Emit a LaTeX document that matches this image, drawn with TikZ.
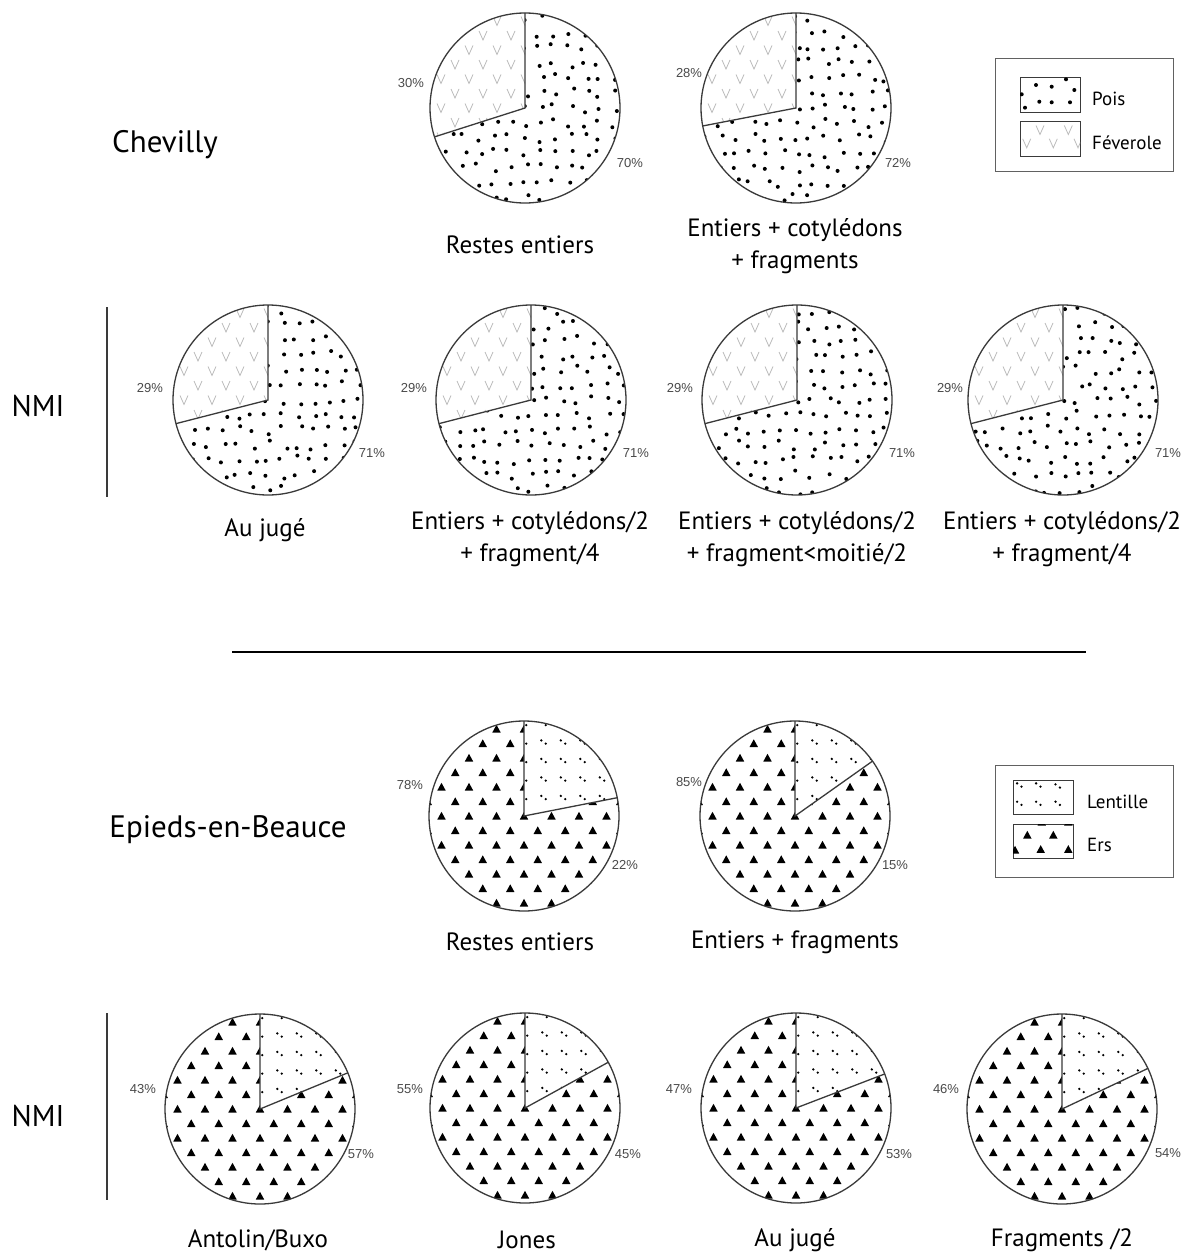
\documentclass[tikz,border=0pt]{standalone}
\usepackage{fontspec}
\setmainfont{PT Sans}
\newfontfamily\pctfont{Liberation Sans}
\definecolor{pline}{HTML}{3A3A3A}
\definecolor{vgray}{HTML}{BDBDBD}
\definecolor{pctgray}{HTML}{4A4A4A}
\tikzset{
  pieline/.style={draw=pline, line width=1.3pt},
  bigtxt/.style={font=\fontsize{31}{36}\selectfont, inner sep=0pt},
  nmitxt/.style={font=\fontsize{30}{34}\selectfont, inner sep=0pt},
  captxt/.style={font=\fontsize{25}{32}\selectfont, align=center, inner sep=0pt},
  pcttxt/.style={font=\pctfont\fontsize{13}{15}\selectfont, text=pctgray, inner sep=0pt},
  legtxt/.style={font=\fontsize{19}{22}\selectfont, anchor=west, inner sep=0pt},
  legbox/.style={draw=pline!80, line width=1pt},
}
\newcommand\dotsfill[2]{%
  \foreach \i in {-7,...,7}{\foreach \j in {-7,...,7}{
    \fill[black] ({#1+\i*15+4.5*rand},{#2+\j*15+4.5*rand}) circle (2pt);}}}
\newcommand\veesfill[2]{%
  \foreach \j in {-7,...,7}{\foreach \i in {-4,...,4}{
    \pgfmathsetmacro\xx{#1+\i*28+14*mod(abs(\j),2)}
    \pgfmathsetmacro\yy{#2+\j*14.5}
    \draw[vgray, line width=0.8pt] (\xx-4,\yy+4.5) -- (\xx,\yy-4.5) -- (\xx+4,\yy+4.5);}}}
\newcommand\lentfill[2]{%
  \foreach \i in {-5,...,5}{\foreach \j in {-6,...,6}{
    \fill[black] ({#1+\i*19.5-2.2},{#2+\j*18.5+1.6}) circle (1.3pt);
    \fill[black] ({#1+\i*19.5+2.2},{#2+\j*18.5-1.6}) circle (1.3pt);}}}
\newcommand\ersfill[2]{%
  \foreach \j in {-7,...,7}{\foreach \i in {-4,...,4}{
    \pgfmathsetmacro\xx{#1+\i*27.5+13.75*mod(abs(\j),2)}
    \pgfmathsetmacro\yy{#2+\j*14.5}
    \fill[black] (\xx-4.2,\yy-3.5) -- (\xx+4.2,\yy-3.5) -- (\xx,\yy+4.2) -- cycle;}}}
% Chevilly-type pie: feverole wedge from 90 to #3
\newcommand\chevpie[3]{%
  \begin{scope}
    \clip (#1,-#2) circle (95pt);
    \fill[white] (#1,-#2) circle (95pt);
    \dotsfill{#1}{-#2}
  \end{scope}
  \begin{scope}
    \clip (#1,-#2) -- ++(90:95pt) arc[start angle=90,end angle=#3,radius=95pt] -- cycle;
    \fill[white] (#1-100,-#2-100) rectangle (#1+100,-#2+100);
    \veesfill{#1}{-#2}
  \end{scope}
  \draw[pieline] (#1,-#2) circle (95pt);
  \draw[pieline] (#1,-#2+95) -- (#1,-#2) -- ++(#3:95pt);
}
% Epieds-type pie: lentille wedge from #3 to 90
\newcommand\epipie[3]{%
  \begin{scope}
    \clip (#1,-#2) circle (95pt);
    \fill[white] (#1,-#2) circle (95pt);
    \ersfill{#1}{-#2}
  \end{scope}
  \begin{scope}
    \clip (#1,-#2) -- ++(#3:95pt) arc[start angle=#3,end angle=90,radius=95pt] -- cycle;
    \fill[white] (#1-100,-#2-100) rectangle (#1+100,-#2+100);
    \lentfill{#1}{-#2}
  \end{scope}
  \draw[pieline] (#1,-#2) circle (95pt);
  \draw[pieline] (#1,-#2+95) -- (#1,-#2) -- ++(#3:95pt);
}
\begin{document}
\begin{tikzpicture}[x=1pt,y=1pt]
\pgfmathsetseed{7}
\useasboundingbox (0,0) rectangle (1186,-1255);
\fill[white] (0,0) rectangle (1186,-1255);

% ---------------- Chevilly ----------------
\node[bigtxt] (chev) at (165,-145) {Chevilly};
\chevpie{525}{108}{197.7}
\chevpie{796}{108}{190.9}
\node[pcttxt] (c1a) at (411,-83) {30\%};
\node[pcttxt] (c1b) at (630,-163) {70\%};
\node[pcttxt] (c2a) at (689,-73) {28\%};
\node[pcttxt] (c2b) at (898,-163) {72\%};
\node[captxt] (cc1) at (520,-245) {Restes entiers};
\node[captxt] (cc2) at (795,-246) {Entiers + cotylédons\\+ fragments};

% legend 1
\draw[legbox] (995,-59) rectangle (1173,-171);
\draw[line width=0.9pt, draw=pline] (1020,-77) rectangle (1080,-112);
\begin{scope}
  \clip (1020,-77) rectangle (1080,-112);
  \foreach \p in {(1036,-85),(1051.7,-86.7),(1066,-79.3),(1074.3,-90),(1021.7,-94.3),(1039.3,-101.7),(1051.7,-102.3),(1070,-102.3),(1025,-107.7)}
    \fill[black] \p circle (2pt);
\end{scope}
\draw[line width=0.9pt, draw=pline] (1020,-121) rectangle (1080,-156);
\begin{scope}
  \clip (1020,-121) rectangle (1080,-156);
  \foreach \a/\b in {1040/130,1068.3/130,1026.7/143.3,1053.3/143.3,1078/143.3}
    \draw[vgray, line width=0.8pt] (\a-4,-\b+4.5) -- (\a,-\b-4.5) -- (\a+4,-\b+4.5);
\end{scope}
\node[legtxt] (lpois) at (1092,-99) {Pois};
\node[legtxt] (lfev) at (1092,-143) {Féverole};

% ---------------- NMI (Chevilly) ----------------
\node[nmitxt] (nmi1) at (38,-406) {NMI};
\draw[line width=1.3pt, draw=pline] (107,-307) -- (107,-497);
\chevpie{268}{400}{194.4}
\chevpie{531}{400}{194.4}
\chevpie{797}{400}{194.4}
\chevpie{1063}{400}{194.4}
\node[pcttxt] (n1a) at (150,-388) {29\%};
\node[pcttxt] (n1b) at (372,-453) {71\%};
\node[pcttxt] (n2a) at (414,-388) {29\%};
\node[pcttxt] (n2b) at (636,-453) {71\%};
\node[pcttxt] (n3a) at (680,-388) {29\%};
\node[pcttxt] (n3b) at (902,-453) {71\%};
\node[pcttxt] (n4a) at (950,-388) {29\%};
\node[pcttxt] (n4b) at (1168,-453) {71\%};
\node[captxt] (nc1) at (265,-530) {Au jugé};
\node[captxt] (nc2) at (530,-539) {Entiers + cotylédons/2\\+ fragment/4};
\node[captxt] (nc3) at (797,-539) {Entiers + cotylédons/2\\+ fragment<moitié/2};
\node[captxt] (nc4) at (1062,-539) {Entiers + cotylédons/2\\+ fragment/4};

% separator
\draw[line width=1.8pt] (232,-652) -- (1086,-652);

% ---------------- Epieds ----------------
\node[bigtxt] (epi) at (228,-830) {Epieds-en-Beauce};
\epipie{524}{816}{11.1}
\epipie{795}{816}{35.3}
\node[pcttxt] (e1a) at (410,-785) {78\%};
\node[pcttxt] (e1b) at (625,-865) {22\%};
\node[pcttxt] (e2a) at (689,-782) {85\%};
\node[pcttxt] (e2b) at (895,-865) {15\%};
\node[captxt] (ec1) at (520,-942) {Restes entiers};
\node[captxt] (ec2) at (795,-942) {Entiers + fragments};

% legend 2
\draw[legbox] (995,-765) rectangle (1173,-877);
\draw[line width=0.9pt, draw=pline] (1013,-780) rectangle (1073,-814);
\foreach \a/\b in {1019.3/785,1038.3/785,1057.7/786,1019.3/803.3,1038.3/803.3,1057.7/803.3}{
  \fill[black] (\a-2.2,-\b+1.6) circle (1.3pt);
  \fill[black] (\a+2.2,-\b-1.6) circle (1.3pt);}
\draw[line width=0.9pt, draw=pline] (1013,-824) rectangle (1073,-858);
\begin{scope}
  \clip (1013,-824) rectangle (1073,-858);
  \foreach \a/\b in {1027.3/835,1053.3/835,1015/850,1040.7/849.3,1068.3/849.3,1041.7/822,1068.3/822}
    \fill[black] (\a-4.2,-\b-3.5) -- (\a+4.2,-\b-3.5) -- (\a,-\b+4.2) -- cycle;
\end{scope}
\node[legtxt] (llen) at (1087,-802) {Lentille};
\node[legtxt] (lers) at (1087,-845) {Ers};

% ---------------- NMI (Epieds) ----------------
\node[nmitxt] (nmi2) at (38,-1116) {NMI};
\draw[line width=1.3pt, draw=pline] (107,-1013) -- (107,-1200);
\epipie{260}{1109}{22.4}
\epipie{525}{1108}{28.8}
\epipie{796}{1108}{21}
\epipie{1062}{1109}{25.3}
\node[pcttxt] (b1a) at (143,-1089) {43\%};
\node[pcttxt] (b1b) at (361,-1154) {57\%};
\node[pcttxt] (b2a) at (410,-1089) {55\%};
\node[pcttxt] (b2b) at (628,-1154) {45\%};
\node[pcttxt] (b3a) at (679,-1089) {47\%};
\node[pcttxt] (b3b) at (899,-1154) {53\%};
\node[pcttxt] (b4a) at (946,-1089) {46\%};
\node[pcttxt] (b4b) at (1168,-1153) {54\%};
\node[captxt] (bc1) at (258,-1240) {Antolin/Buxo};
\node[captxt] (bc2) at (527,-1240) {Jones};
\node[captxt] (bc3) at (795,-1240) {Au jugé};
\node[captxt] (bc4) at (1062,-1240) {Fragments /2};
\end{tikzpicture}
\end{document}
